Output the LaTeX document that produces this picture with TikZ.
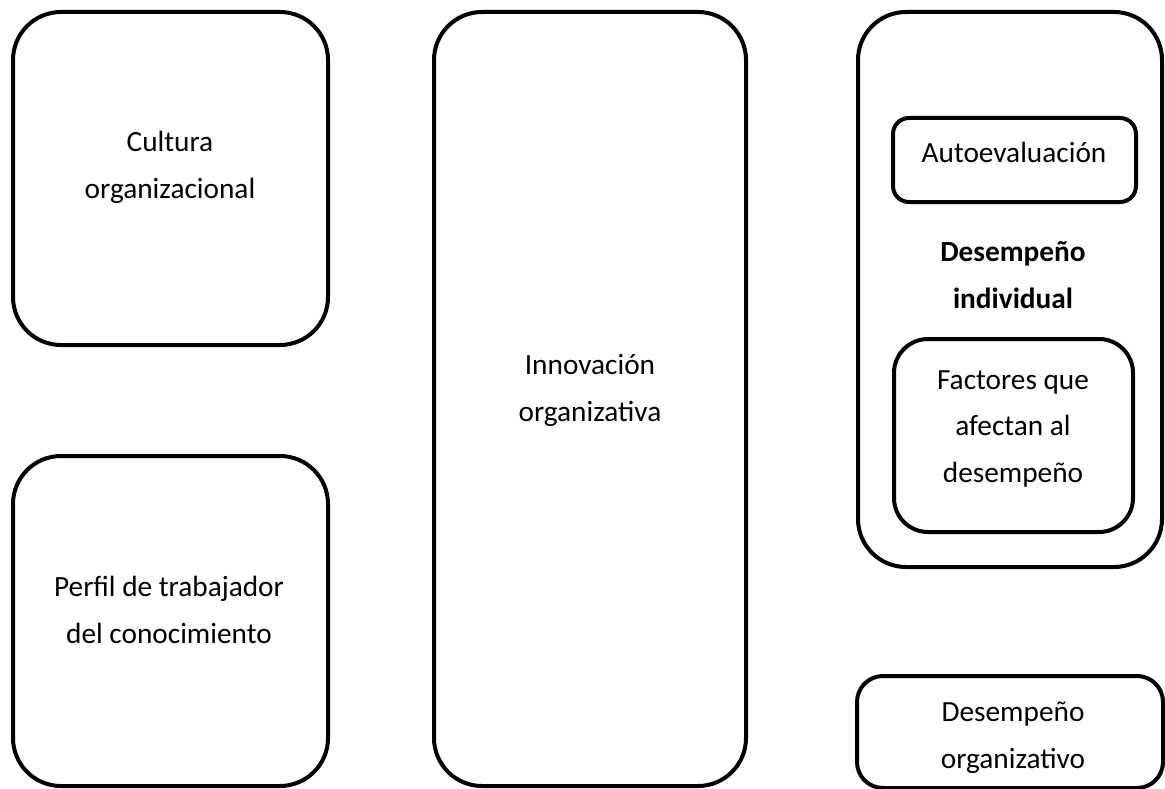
\documentclass[tikz,border=0pt]{standalone}
\usepackage{fontspec}
\setmainfont{Carlito}
\begin{document}
\begin{tikzpicture}[x=1pt,y=-1pt,
  box/.style={draw=black,line width=4pt,rounded corners=#1,inner sep=0pt,outer sep=0pt},
  box/.default=48pt,
  lbl/.style={align=center,inner sep=0pt,anchor=base,font=\fontsize{29.3}{46.5}\selectfont}]
\useasboundingbox (0,0) rectangle (1165,789);
% frames
\node[box,minimum width=315pt,minimum height=333pt] (cult) at (170.5,178.5) {};
\node[box,minimum width=315pt,minimum height=330pt] (perf) at (170.5,621) {};
\node[box,minimum width=312pt,minimum height=774pt] (innov) at (590,399) {};
\node[box,minimum width=304pt,minimum height=555pt] (indiv) at (1010,289.5) {};
\node[box=16pt,minimum width=243pt,minimum height=84pt] (auto) at (1014.5,160) {};
\node[box=34pt,minimum width=239pt,minimum height=193pt] (fact) at (1013.5,435.5) {};
\node[box=26pt,minimum width=306pt,minimum height=112pt] (org) at (1010,732) {};
% labels (placed at the baseline of their last line)
\node[lbl] (tcult) at (170,198) {Cultura\\organizacional};
\node[lbl] (tperf) at (169,643) {Perfil de trabajador\\del conocimiento};
\node[lbl] (tinnov) at (590,421) {Innovación\\organizativa};
\node[lbl] (tauto) at (1014,163) {Autoevaluación};
\node[lbl,font=\fontsize{29.3}{46.5}\selectfont\bfseries] (tindiv) at (1013,308) {Desempeño\\individual};
\node[lbl] (tfact) at (1013,482) {Factores que\\afectan al\\desempeño};
\node[lbl] (torg) at (1013,768) {Desempeño\\organizativo};
\end{tikzpicture}
\end{document}
